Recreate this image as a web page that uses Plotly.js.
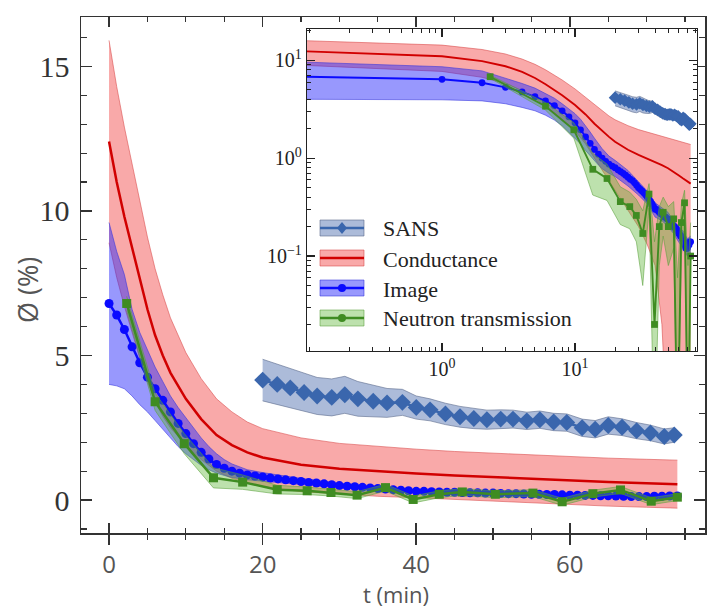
<!DOCTYPE html>
<html>
<head>
<meta charset="utf-8">
<script src="https://cdn.plot.ly/plotly-3.0.1.min.js"></script>
<style>html,body{margin:0;padding:0;background:#fff;}#chart{width:707px;height:609px;}</style>
</head>
<body>
<div id="chart"></div>
<script>
// ---------------- data ----------------
const seriesNames = ["SANS", "Conductance", "Image", "Neutron transmission"];

// SANS
const sansT   = [20.0, 21.9, 23.6, 25.4, 27.1, 29.0, 30.7, 32.4, 34.4, 36.2, 38.2, 40.0, 41.8, 43.8, 45.7, 47.5, 49.2, 51.0, 52.6, 54.4, 56.1, 57.9, 59.6, 61.6, 63.3, 65.0, 66.8, 68.7, 70.5, 72.3, 73.6];
const sansV   = [4.15, 4.0, 3.88, 3.72, 3.6, 3.55, 3.64, 3.5, 3.42, 3.36, 3.38, 3.2, 3.12, 2.98, 2.88, 2.82, 2.78, 2.8, 2.8, 2.74, 2.78, 2.7, 2.68, 2.5, 2.45, 2.58, 2.52, 2.4, 2.32, 2.2, 2.25];
const sansErr = [0.72, 0.7, 0.68, 0.66, 0.64, 0.64, 0.64, 0.6, 0.55, 0.5, 0.45, 0.4, 0.38, 0.37, 0.36, 0.35, 0.33, 0.32, 0.31, 0.3, 0.3, 0.3, 0.3, 0.3, 0.3, 0.3, 0.29, 0.28, 0.27, 0.26, 0.25];

// Conductance
const condT   = [0, 1, 2, 3, 4, 5, 6, 7, 8, 10, 12, 14, 16, 18, 20, 25, 30, 35, 40, 45, 50, 55, 60, 65, 70, 74];
const condV   = [12.4, 11.0, 9.8, 8.7, 7.6, 6.6, 5.7, 5.0, 4.4, 3.5, 2.8, 2.25, 1.9, 1.65, 1.47, 1.22, 1.08, 0.99, 0.92, 0.85, 0.79, 0.73, 0.67, 0.62, 0.58, 0.55];
const condErr = [3.5, 3.3, 3.1, 2.9, 2.7, 2.5, 2.3, 2.1, 1.9, 1.6, 1.4, 1.25, 1.15, 1.05, 1.0, 0.93, 0.88, 0.86, 0.84, 0.83, 0.83, 0.83, 0.83, 0.83, 0.83, 0.83];

// Image
const imageT = [0, 1, 2, 3, 4, 5, 6, 7, 8, 9, 10, 11, 12, 13, 14, 15, 16, 17, 18, 19, 20, 21, 22, 23, 24, 25, 26, 27, 28, 29, 30, 31, 32, 33, 34, 35, 36, 37, 38, 39, 40, 41, 42, 43, 44, 45, 46, 47, 48, 49, 50, 51, 52, 53, 54, 55, 56, 57, 58, 59, 60, 61, 62, 63, 64, 65, 66, 67, 68, 69, 70, 71, 72, 73, 74];
const imageV = [6.8, 6.4, 5.9, 5.3, 4.75, 4.25, 3.85, 3.45, 3.05, 2.65, 2.3, 1.95, 1.65, 1.42, 1.23, 1.1, 1.0, 0.93, 0.87, 0.83, 0.8, 0.76, 0.73, 0.7, 0.67, 0.64, 0.61, 0.59, 0.56, 0.53, 0.5, 0.48, 0.46, 0.44, 0.42, 0.4, 0.38, 0.36, 0.34, 0.32, 0.3, 0.3, 0.29, 0.28, 0.27, 0.27, 0.26, 0.25, 0.25, 0.24, 0.24, 0.23, 0.22, 0.22, 0.21, 0.2, 0.2, 0.19, 0.19, 0.18, 0.17, 0.17, 0.16, 0.16, 0.15, 0.15, 0.14, 0.13, 0.12, 0.12, 0.12, 0.13, 0.13, 0.14, 0.14];
const imageBandT  = [0, 1, 2, 3, 4, 5, 6, 7, 8, 9, 10, 11, 12, 13, 14, 15, 16, 18, 20, 25, 30, 35, 40, 45, 50, 55, 60, 65, 70, 74];
const imageLow    = [4.0, 3.95, 3.85, 3.6, 3.3, 3.05, 2.75, 2.45, 2.15, 1.85, 1.6, 1.4, 1.2, 1.05, 0.93, 0.85, 0.78, 0.7, 0.65, 0.52, 0.42, 0.34, 0.25, 0.23, 0.2, 0.17, 0.14, 0.12, 0.1, 0.11];
const imageHigh   = [9.6, 8.6, 7.8, 6.6, 5.8, 5.2, 4.6, 4.1, 3.6, 3.2, 2.85, 2.5, 2.15, 1.85, 1.6, 1.4, 1.25, 1.05, 0.95, 0.75, 0.58, 0.46, 0.35, 0.31, 0.28, 0.23, 0.2, 0.18, 0.15, 0.16];

// Neutron transmission
const neutT   = [2.3, 6.0, 9.8, 13.6, 17.4, 21.9, 25.8, 28.9, 32.3, 36.0, 39.6, 43.0, 46.0, 50.3, 55.2, 59.0, 63.0, 66.6, 70.6, 74.0];
const neutV   = [6.8, 3.4, 1.95, 0.77, 0.62, 0.36, 0.32, 0.26, 0.17, 0.43, 0.02, 0.2, 0.28, 0.2, 0.24, -0.06, 0.22, 0.35, -0.04, 0.1];
const neutErr = [0.25, 0.3, 0.35, 0.35, 0.25, 0.15, 0.13, 0.12, 0.12, 0.12, 0.12, 0.12, 0.12, 0.12, 0.12, 0.12, 0.12, 0.12, 0.12, 0.12];

// tick labels
const mainXTicks = [0, 20, 40, 60];
const mainYTicks = [0, 5, 10, 15];
const insetXTicks = [1, 10];
const insetXText  = ["10<sup>0</sup>", "10<sup>1</sup>"];
const insetYTicks = [0.1, 1, 10];
const insetYText  = ["10<sup>\u22121</sup>", "10<sup>0</sup>", "10<sup>1</sup>"];

// ---------------- styles ----------------
const COL = {
  sans:  {line: "#3a66ad", fill: "rgba(70,105,170,0.45)", edge: "rgba(90,105,140,0.75)"},
  cond:  {line: "#d10000", fill: "rgba(240,50,50,0.42)",  edge: "rgba(215,70,70,0.7)"},
  image: {line: "#0a0aff", fill: "rgba(40,40,250,0.48)",  edge: "rgba(50,50,220,0.7)"},
  neut:  {line: "#3f8c22", fill: "rgba(90,180,50,0.40)",  edge: "rgba(90,160,60,0.7)"}
};

const add = (a, b) => a.map((v, i) => v + b[i]);
const sub = (a, b) => a.map((v, i) => v - b[i]);
const LOG_T_FLOOR = 0.09;      // t = 0 drawn at the left edge of the log inset
const LOG_V_FLOOR = 1e-3;      // non-positive values pushed below the inset
const tLog = arr => arr.map(t => t > 0 ? t : LOG_T_FLOOR);
const vLog = arr => arr.map(v => Math.max(v, LOG_V_FLOOR));

function band(x, lo, hi, c, xa, ya, log) {
  const X = log ? tLog(x) : x;
  const L = log ? vLog(lo) : lo, H = log ? vLog(hi) : hi;
  return [
    {x: X, y: L, xaxis: xa, yaxis: ya, mode: "lines", line: {color: c.edge, width: 0.8}, hoverinfo: "skip", showlegend: false},
    {x: X, y: H, xaxis: xa, yaxis: ya, mode: "lines", fill: "tonexty", fillcolor: c.fill, line: {color: c.edge, width: 0.8}, hoverinfo: "skip", showlegend: false}
  ];
}
function series(x, y, c, sym, size, xa, ya, log, showMarkers, width) {
  return {
    x: log ? tLog(x) : x, y: log ? vLog(y) : y, xaxis: xa, yaxis: ya,
    mode: showMarkers ? "lines+markers" : "lines",
    line: {color: c.line, width: width},
    marker: {symbol: sym, size: size, color: c.line},
    showlegend: false
  };
}

const traces = [];
function addAll(xa, ya, log) {
  const s = log ? 0.75 : 1;
  traces.push(...band(sansT, sub(sansV, sansErr), add(sansV, sansErr), COL.sans, xa, ya, log));
  traces.push(series(sansT, sansV, COL.sans, "diamond", 13 * s, xa, ya, log, true, 2.5 * s));
  traces.push(...band(condT, sub(condV, condErr), add(condV, condErr), COL.cond, xa, ya, log));
  traces.push(series(condT, condV, COL.cond, "circle", 0, xa, ya, log, false, 2.5 * s));
  traces.push(...band(imageBandT, imageLow, imageHigh, COL.image, xa, ya, log));
  traces.push(series(imageT, imageV, COL.image, "circle", 9 * s, xa, ya, log, true, 2.5 * s));
  traces.push(...band(neutT, sub(neutV, neutErr), add(neutV, neutErr), COL.neut, xa, ya, log));
  traces.push(series(neutT, neutV, COL.neut, "square", 9 * s, xa, ya, log, true, 2.5 * s));
}
addAll("x", "y", false);
addAll("x2", "y2", true);

// ---------------- geometry helpers (pixel -> paper) ----------------
const ML = 81, MR = 2, MT = 17, MB = 76, W = 707, H = 609;
const PW = W - ML - MR, PH = H - MT - MB;
const px2x = p => (p - ML) / PW;
const py2y = p => (H - MB - p) / PH;

// ---------------- legend (drawn as shapes + text) ----------------
const legCols = [COL.sans, COL.cond, COL.image, COL.neut];
const legMarks = ["diamond", null, "circle", "circle"];
const legY = [228, 258, 288, 318];
const shapes = [], annotations = [];
legY.forEach((py, i) => {
  const c = legCols[i];
  shapes.push({type: "rect", xref: "paper", yref: "paper", x0: px2x(320), x1: px2x(364), y0: py2y(py + 8), y1: py2y(py - 8),
               fillcolor: c.fill, line: {color: c.edge, width: 0.8}});
  shapes.push({type: "line", xref: "paper", yref: "paper", x0: px2x(320), x1: px2x(364), y0: py2y(py), y1: py2y(py),
               line: {color: c.line, width: 2.5}});
  if (legMarks[i] === "circle") {
    shapes.push({type: "circle", xref: "paper", yref: "paper", x0: px2x(338), x1: px2x(346), y0: py2y(py + 4), y1: py2y(py - 4),
                 fillcolor: c.line, line: {color: c.line, width: 0}});
  } else if (legMarks[i] === "diamond") {
    const cx = px2x(342), cy = py2y(py), dx = 5 / PW, dy = 6 / PH;
    shapes.push({type: "path", xref: "paper", yref: "paper",
                 path: `M ${cx - dx} ${cy} L ${cx} ${cy + dy} L ${cx + dx} ${cy} L ${cx} ${cy - dy} Z`,
                 fillcolor: c.line, line: {color: c.line, width: 0}});
  }
  annotations.push({xref: "paper", yref: "paper", x: px2x(381), y: py2y(py + 1), xanchor: "left", yanchor: "middle",
                    text: seriesNames[i], showarrow: false,
                    font: {family: "Liberation Serif, serif", size: 22, color: "#222"}});
});

// axis titles
annotations.push({xref: "paper", yref: "paper", x: px2x(396), y: py2y(594), xanchor: "center", yanchor: "middle",
                  text: "t (min)", showarrow: false, font: {family: "Open Sans, sans-serif", size: 22, color: "#555"}});
annotations.push({xref: "paper", yref: "paper", x: px2x(27), y: py2y(290), xanchor: "center", yanchor: "middle",
                  text: "Ø (%)", textangle: -90, showarrow: false, font: {family: "Open Sans, sans-serif", size: 27, color: "#555"}});

// inset minor tick positions (log)
const decadeMinor = [];
[0.1, 1, 10].forEach(d => { for (let k = 1; k <= 9; k++) decadeMinor.push(d * k); });
const decadeMinorY = [];
[0.01, 0.1, 1, 10].forEach(d => { for (let k = 1; k <= 9; k++) decadeMinorY.push(d * k); });

const axisCol = "#333";
const layout = {
  width: W, height: H,
  margin: {l: ML, r: MR, t: MT, b: MB, pad: 0},
  paper_bgcolor: "#fff", plot_bgcolor: "#fff",
  showlegend: false,
  xaxis: {
    domain: [0, 1], anchor: "y", range: [-3.65, 77.6],
    tickmode: "array", tickvals: mainXTicks, ticks: "outside", ticklen: 10, tickwidth: 1.5, tickcolor: axisCol,
    showline: true, linecolor: axisCol, linewidth: 1.5, mirror: true,
    showgrid: false, zeroline: false,
    tickfont: {family: "Open Sans, sans-serif", size: 24, color: "#555"},
    minor: {tickmode: "linear", tick0: 0, dtick: 5, ticks: "outside", ticklen: 5, tickwidth: 1.2, tickcolor: axisCol, showgrid: false}
  },
  xaxis3: {
    overlaying: "x", anchor: "y", range: [-3.65, 77.6],
    tickmode: "array", tickvals: mainXTicks, ticks: "inside", ticklen: 10, tickwidth: 1.5, tickcolor: axisCol,
    showline: true, linecolor: axisCol, linewidth: 1.5, mirror: "ticks",
    showgrid: false, zeroline: false, showticklabels: false,
    minor: {tickmode: "linear", tick0: 0, dtick: 5, ticks: "inside", ticklen: 5, tickwidth: 1.2, tickcolor: axisCol, showgrid: false}
  },
  yaxis: {
    domain: [0, 1], anchor: "x", range: [-1.14, 16.71],
    tickmode: "array", tickvals: mainYTicks, ticks: "inside", ticklen: 11, tickwidth: 1.5, tickcolor: axisCol,
    showline: true, linecolor: axisCol, linewidth: 1.5, mirror: "ticks",
    showgrid: false, zeroline: false,
    tickfont: {family: "Liberation Serif, serif", size: 30, color: "#333"},
    ticklabelstandoff: 4,
    minor: {tickmode: "linear", tick0: 0, dtick: 1, ticks: "inside", ticklen: 6, tickwidth: 1.2, tickcolor: axisCol, showgrid: false}
  },
  xaxis2: {
    type: "log", domain: [px2x(307), px2x(697)], anchor: "y2", range: [-1.015, 1.917],
    tickmode: "array", tickvals: insetXTicks, ticktext: insetXText,
    ticks: "inside", ticklen: 8, tickwidth: 1.2, tickcolor: "#222",
    showline: true, linecolor: "#222", linewidth: 1.2, mirror: "ticks",
    showgrid: false, zeroline: false,
    tickfont: {family: "Liberation Serif, serif", size: 20, color: "#222"},
    minor: {tickmode: "array", tickvals: decadeMinor, ticks: "inside", ticklen: 4, tickwidth: 1, tickcolor: "#222", showgrid: false}
  },
  yaxis2: {
    type: "log", domain: [py2y(351), py2y(29)], anchor: "x2", range: [-1.97, 1.32],
    tickmode: "array", tickvals: insetYTicks, ticktext: insetYText,
    ticks: "inside", ticklen: 8, tickwidth: 1.2, tickcolor: "#222",
    showline: true, linecolor: "#222", linewidth: 1.2, mirror: "ticks",
    showgrid: false, zeroline: false,
    tickfont: {family: "Liberation Serif, serif", size: 20, color: "#222"},
    minor: {tickmode: "array", tickvals: decadeMinorY, ticks: "inside", ticklen: 4, tickwidth: 1, tickcolor: "#222", showgrid: false}
  },
  shapes: shapes,
  annotations: annotations
};

// dummy trace so the overlaying x axis (ticks only) is drawn
traces.unshift({x: [], y: [], xaxis: "x3", yaxis: "y", mode: "lines", showlegend: false, hoverinfo: "skip"});

Plotly.newPlot("chart", traces, layout, {displayModeBar: false, staticPlot: true});
</script>
</body>
</html>
